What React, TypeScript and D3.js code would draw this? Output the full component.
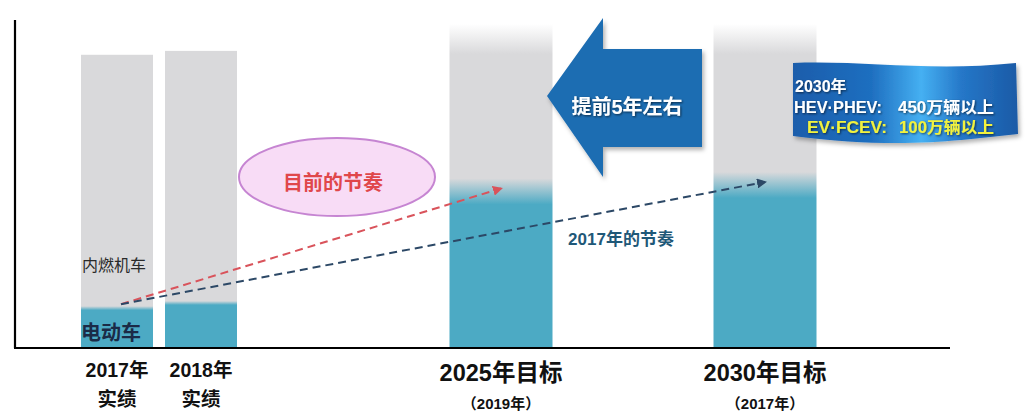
import { useEffect, useRef } from 'react'
import * as d3 from 'd3'

// bar categories and values (share of new-car sales, full bar = 100)
const categories = ['2017', '2018', '2025', '2030']
const barKinds = ['actual', 'actual', 'target', 'target']
const totalValues = [90.5, 91.7, 100, 100]
const evValues = [12.3, 13.9, 48, 50]
const labelLine1 = ['2017年', '2018年', '2025年目标', '2030年目标']
const labelLine2 = ['实绩', '实绩', '（2019年）', '（2017年）']

const W = 1028
const H = 418
const GRAY = '#d9d9db'
const BLUE = '#4caac4'
const FONT = '"Liberation Sans", "Noto Sans CJK SC", sans-serif'

export default function App() {
  const svgRef = useRef<SVGSVGElement>(null)

  useEffect(() => {
    if (!svgRef.current) return
    const svg = d3.select(svgRef.current)
    svg.selectAll('*').remove()

    const baseY = 348
    const y = d3.scaleLinear().domain([0, 100]).range([baseY, 24])
    const x = d3.scaleOrdinal<string, number>().domain(categories).range([117, 201, 501, 765])
    const barWidth = (i: number) => (barKinds[i] === 'actual' ? 72 : 103)

    const defs = svg.append('defs')

    // soft shadow
    const shadow = defs.append('filter').attr('id', 'shadow').attr('x', '-10%').attr('y', '-10%').attr('width', '130%').attr('height', '140%')
    shadow.append('feDropShadow').attr('dx', 2).attr('dy', 3).attr('stdDeviation', 2).attr('flood-color', '#000').attr('flood-opacity', 0.3)
    const textShadow = defs.append('filter').attr('id', 'tshadow')
    textShadow.append('feDropShadow').attr('dx', 1).attr('dy', 1).attr('stdDeviation', 0.8).attr('flood-color', '#000').attr('flood-opacity', 0.6)

    // gradients for target bars: fade in at top, blurred edge between gray and blue
    categories.forEach((c, i) => {
      const top = y(totalValues[i])
      const span = baseY - top
      const evTop = y(evValues[i])
      const g = defs.append('linearGradient')
        .attr('id', `bar-${c}`)
        .attr('gradientUnits', 'userSpaceOnUse')
        .attr('x1', 0).attr('x2', 0)
        .attr('y1', top).attr('y2', baseY)
      const off = (py: number) => Math.max(0, Math.min(1, (py - top) / span))
      if (barKinds[i] === 'target') {
        g.append('stop').attr('offset', 0).attr('stop-color', '#ffffff')
        g.append('stop').attr('offset', off(top + 30)).attr('stop-color', GRAY)
        g.append('stop').attr('offset', off(evTop - 14)).attr('stop-color', GRAY)
        g.append('stop').attr('offset', off(evTop + 12)).attr('stop-color', BLUE)
        g.append('stop').attr('offset', 1).attr('stop-color', BLUE)
      } else {
        g.append('stop').attr('offset', 0).attr('stop-color', GRAY)
        g.append('stop').attr('offset', off(evTop - 2)).attr('stop-color', GRAY)
        g.append('stop').attr('offset', off(evTop + 2)).attr('stop-color', BLUE)
        g.append('stop').attr('offset', 1).attr('stop-color', BLUE)
      }
    })

    // banner gradient
    const bg = defs.append('linearGradient').attr('id', 'banner').attr('x1', 0).attr('x2', 1).attr('y1', 0).attr('y2', 0)
    ;[
      [0, '#1b5dab'], [0.35, '#1f6fc0'], [0.57, '#45b0f2'], [0.75, '#2577c8'], [1, '#1b5aa6'],
    ].forEach(([o, col]) => bg.append('stop').attr('offset', o as number).attr('stop-color', col as string))

    // arrow markers
    const marker = (id: string, color: string) => {
      defs.append('marker')
        .attr('id', id)
        .attr('viewBox', '0 0 10 10')
        .attr('refX', 8).attr('refY', 5)
        .attr('markerWidth', 5).attr('markerHeight', 5)
        .attr('orient', 'auto')
        .append('path')
        .attr('d', 'M0,0 L10,5 L0,10 Z')
        .attr('fill', color)
    }
    marker('m-red', '#d9535b')
    marker('m-blue', '#2c4866')

    // bars
    svg.append('g')
      .selectAll('rect')
      .data(categories)
      .join('rect')
      .attr('x', (c, i) => x(c) - barWidth(i) / 2)
      .attr('width', (_, i) => barWidth(i))
      .attr('y', (_, i) => y(totalValues[i]))
      .attr('height', (_, i) => baseY - y(totalValues[i]))
      .attr('fill', (c) => `url(#bar-${c})`)

    // axes
    svg.append('line').attr('x1', 15).attr('x2', 15).attr('y1', 20).attr('y2', baseY)
      .attr('stroke', '#000').attr('stroke-width', 2.2)
    svg.append('line').attr('x1', 14).attr('x2', 950).attr('y1', baseY).attr('y2', baseY)
      .attr('stroke', '#000').attr('stroke-width', 2.2)

    // segment labels inside the 2017 bar
    svg.append('text').attr('x', 82).attr('y', 271)
      .attr('font-family', FONT).attr('font-size', 16).attr('fill', '#2a2a2a')
      .text('内燃机车')
    svg.append('text').attr('x', 81).attr('y', 340)
      .attr('font-family', FONT).attr('font-size', 20).attr('font-weight', 'bold').attr('fill', '#1b2b47')
      .text('电动车')

    // category labels
    categories.forEach((c, i) => {
      const big = barKinds[i] === 'target'
      svg.append('text')
        .attr('x', x(c)).attr('y', big ? 381 : 377)
        .attr('text-anchor', 'middle')
        .attr('font-family', FONT).attr('font-weight', 'bold')
        .attr('font-size', big ? 23.5 : 19.5).attr('fill', '#111')
        .text(labelLine1[i])
      svg.append('text')
        .attr('x', x(c)).attr('y', big ? 409 : 406)
        .attr('text-anchor', 'middle')
        .attr('font-family', FONT).attr('font-weight', 'bold')
        .attr('font-size', big ? 15 : 19.5).attr('fill', '#111')
        .text(labelLine2[i])
    })

    // pace lines from 2017 EV share to targets
    const start: [number, number] = [x('2017') + 4, y(evValues[0]) - 4]
    const paceLines = [
      { to: '2025', color: '#d9535b', m: 'm-red' },
      { to: '2030', color: '#2c4866', m: 'm-blue' },
    ]
    paceLines.forEach((p) => {
      const i = categories.indexOf(p.to)
      svg.append('line')
        .attr('x1', start[0]).attr('y1', start[1])
        .attr('x2', x(p.to)).attr('y2', y(evValues[i]) - 4)
        .attr('stroke', p.color).attr('stroke-width', 2)
        .attr('stroke-dasharray', '8,5')
        .attr('marker-end', `url(#${p.m})`)
    })

    // current pace bubble
    svg.append('ellipse').attr('cx', 337).attr('cy', 177).attr('rx', 98).attr('ry', 39)
      .attr('fill', '#f8dcf6').attr('stroke', '#c685d2').attr('stroke-width', 2)
    svg.append('text').attr('x', 333).attr('y', 190).attr('text-anchor', 'middle')
      .attr('font-family', FONT).attr('font-weight', 'bold').attr('font-size', 20).attr('fill', '#e0474b')
      .text('目前的节奏')

    svg.append('text').attr('x', 621).attr('y', 245).attr('text-anchor', 'middle')
      .attr('font-family', FONT).attr('font-weight', 'bold').attr('font-size', 17).attr('fill', '#1f5878')
      .text('2017年的节奏')

    // big left arrow
    svg.append('path')
      .attr('d', 'M547,96 L603,18 L603,49 L702,49 L702,147 L603,147 L603,177 Z')
      .attr('fill', '#1f6db2')
      .attr('filter', 'url(#shadow)')
    svg.append('text').attr('x', 627).attr('y', 114).attr('text-anchor', 'middle')
      .attr('font-family', FONT).attr('font-weight', 'bold').attr('font-size', 20).attr('fill', '#fff')
      .attr('filter', 'url(#tshadow)')
      .text('提前5年左右')

    // 2030 banner
    svg.append('path')
      .attr('d', 'M793,63 C860,60 930,72 1016,63 L1018,134 C960,140 900,150 793,136 Z')
      .attr('fill', 'url(#banner)')
      .attr('filter', 'url(#shadow)')
    const bt = svg.append('g').attr('font-family', FONT).attr('font-weight', 'bold').attr('font-size', 16)
      .attr('filter', 'url(#tshadow)')
    bt.append('text').attr('x', 795).attr('y', 92).attr('fill', '#fff').text('2030年')
    bt.append('text').attr('x', 794).attr('y', 113).attr('fill', '#fff')
      .attr('textLength', 88).attr('lengthAdjust', 'spacingAndGlyphs').text('HEV·PHEV:')
    bt.append('text').attr('x', 898).attr('y', 113).attr('fill', '#fff')
      .attr('textLength', 96).attr('lengthAdjust', 'spacingAndGlyphs').text('450万辆以上')
    bt.append('text').attr('x', 807).attr('y', 133).attr('fill', '#f2f23c')
      .attr('textLength', 80).attr('lengthAdjust', 'spacingAndGlyphs').text('EV·FCEV:')
    bt.append('text').attr('x', 899).attr('y', 133).attr('fill', '#f2f23c')
      .attr('textLength', 95).attr('lengthAdjust', 'spacingAndGlyphs').text('100万辆以上')
  }, [])

  return (
    <svg
      ref={svgRef}
      width={W}
      height={H}
      style={{ position: 'absolute', left: 0, top: 0, background: '#fff' }}
    />
  )
}
